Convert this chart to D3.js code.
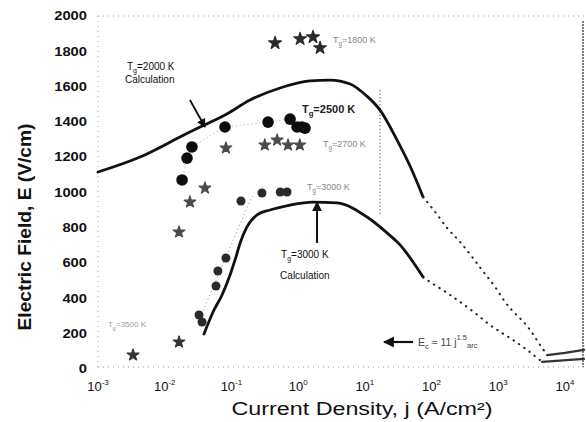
<!DOCTYPE html>
<html><head><meta charset="utf-8">
<script src="https://cdn.jsdelivr.net/npm/d3@7"></script>
<style>body{margin:0;background:#fff}svg{display:block;font-family:"Liberation Sans",Arial,sans-serif}</style>
</head><body><svg id="c" width="586" height="422"></svg>
<script>
// ---- tick labels ----
const yTickValues = [0,200,400,600,800,1000,1200,1400,1600,1800,2000];
const xTickValues = [1e-3,1e-2,1e-1,1,10,100,1000,10000];
const xTickExponents = ["-3","-2","-1","0","1","2","3","4"];

// ---- calculation curves [j (A/cm2), E (V/cm)] ----
const calc2000Solid = [[0.001,1116],[0.00427,1201],[0.0169,1314],[0.0338,1371],[0.0802,1439],[0.19,1524],[0.536,1592],[1.51,1632],[3.01,1637],[6.0,1615],[10.8,1545],[16.9,1467],[30.4,1297],[47.6,1150],[74.6,975]];
const calc2000Dotted = [[74.6,975],[113,890],[171,799],[267,720],[571,561],[895,465],[1265,380],[3000,221],[4240,136],[5400,79]];
const calc2000Tail = [[5400,79],[10000,91],[19300,108]];
const calc3000Solid = [[0.0388,198],[0.053,323],[0.0723,419],[0.0953,533],[0.117,635],[0.135,714],[0.171,805],[0.242,873],[0.379,901],[0.757,929],[1.67,946],[3.83,941],[10.8,861],[21.5,771],[33.7,703],[74.6,521]];
const calc3000Dotted = [[74.6,521],[95.1,493],[171,431],[449,317],[753,249],[1667,164],[2704,108],[4540,40]];
const calc3000Tail = [[4540,40],[19300,57]];

// ---- measured data ----
const data2500 = [[0.0182,1071],[0.0216,1195],[0.0256,1258],[0.080,1371],[0.354,1399],[0.757,1416],[0.964,1371],[1.14,1371],[1.27,1365]];
const data2700 = [[0.0164,776],[0.0239,946],[0.0401,1025],[0.0827,1252],[0.316,1269],[0.484,1297],[0.705,1269],[1.06,1269]];
const data3000 = [[0.0327,306],[0.0363,266],[0.0587,470],[0.0627,555],[0.0827,629],[0.139,952],[0.287,997],[0.54,1003],[0.681,1003]];
const data1800 = [[0.451,1847],[1.07,1870],[1.67,1881],[2.13,1819]];
const dataLow = [[0.00335,79],[0.0164,153]];
const trend3000 = [[0.0338,289],[0.204,980]];
const markerLine = [[16.9,1580],[16.9,870]];

const svg = d3.select("#c");
const x = d3.scaleLog().domain([1e-3, Math.pow(10,4.285)]).range([98,584]);
const y = d3.scaleLinear().domain([0,2000]).range([369,16]);
const line = d3.line().x(d=>x(d[0])).y(d=>y(d[1])).curve(d3.curveMonotoneX);
const straight = d3.line().x(d=>x(d[0])).y(d=>y(d[1]));

// frame (faint dotted as in scan)
const [x0,x1] = x.range(), [y0,y1] = y.range();
const fr = svg.append("g").attr("fill","none");
fr.append("line").attr("x1",x0).attr("x2",x1).attr("y1",y1).attr("y2",y1).attr("stroke","#999").attr("stroke-dasharray","1,4");
fr.append("line").attr("x1",x0).attr("x2",x1).attr("y1",y0-2).attr("y2",y0-2).attr("stroke","#999").attr("stroke-dasharray","1,4");
fr.append("line").attr("x1",x0).attr("x2",x0).attr("y1",y1).attr("y2",y0).attr("stroke","#aaa").attr("stroke-dasharray","1,4");
fr.append("line").attr("x1",x1-1).attr("x2",x1-1).attr("y1",y1+5).attr("y2",y0-2).attr("stroke","#555").attr("stroke-width",1.5).attr("stroke-dasharray","2,1");

// y tick labels
svg.append("g").selectAll("text").data(yTickValues).join("text")
  .attr("x",87).attr("y",d=>y(d)).attr("dy","0.35em").attr("text-anchor","end")
  .attr("font-size",12).attr("font-weight","bold").attr("fill","#111")
  .attr("textLength",d=>String(d).length*8.2).attr("lengthAdjust","spacingAndGlyphs")
  .text(d=>String(d));

// x tick labels
const xt = svg.append("g").selectAll("text").data(xTickValues).join("text")
  .attr("x",(d)=>x(d)).attr("y",391).attr("text-anchor","middle")
  .attr("font-size",13).attr("fill","#111");
xt.append("tspan").text("10");
xt.append("tspan").attr("dy",-6).attr("font-size",8).text((d,i)=>xTickExponents[i]);

// axis titles
svg.append("text").attr("x",362).attr("y",415).attr("text-anchor","middle")
  .attr("font-size",18).attr("fill","#111").attr("textLength",261).attr("lengthAdjust","spacingAndGlyphs")
  .text("Current Density, j (A/cm²)");
svg.append("text").attr("transform","translate(31,227) rotate(-90)").attr("text-anchor","middle")
  .attr("font-size",18).attr("font-weight","bold").attr("fill","#111")
  .attr("textLength",207).attr("lengthAdjust","spacingAndGlyphs")
  .text("Electric Field, E (V/cm)");

// vertical dotted marker
svg.append("path").datum(markerLine).attr("d",straight).attr("stroke","#444").attr("stroke-width",1.2).attr("stroke-dasharray","1,2.5").attr("fill","none");

// trend lines (faint dotted)
svg.append("path").datum(trend3000).attr("d",straight).attr("stroke","#888").attr("stroke-dasharray","1,3").attr("fill","none");
svg.append("path").datum(data2500).attr("d",straight).attr("stroke","#aaa").attr("stroke-dasharray","1,3").attr("fill","none");

// calc curves
const cg = svg.append("g").attr("fill","none").attr("stroke-linecap","round");
cg.append("path").datum(calc2000Solid).attr("d",line).attr("stroke","#111").attr("stroke-width",2.8);
cg.append("path").datum(calc2000Dotted).attr("d",line).attr("stroke","#222").attr("stroke-width",2).attr("stroke-dasharray","0.5,6");
cg.append("path").datum(calc2000Tail).attr("d",straight).attr("stroke","#333").attr("stroke-width",2.2);
cg.append("path").datum(calc3000Solid).attr("d",line).attr("stroke","#111").attr("stroke-width",2.8);
cg.append("path").datum(calc3000Dotted).attr("d",line).attr("stroke","#222").attr("stroke-width",2).attr("stroke-dasharray","0.5,6");
cg.append("path").datum(calc3000Tail).attr("d",straight).attr("stroke","#333").attr("stroke-width",2.2);

// markers
function circles(data, r, fill){
  svg.append("g").selectAll("circle").data(data).join("circle")
    .attr("cx",d=>x(d[0])).attr("cy",d=>y(d[1])).attr("r",r).attr("fill",fill);
}
function stars(data, size, fill){
  svg.append("g").selectAll("path").data(data).join("path")
    .attr("transform",d=>`translate(${x(d[0])},${y(d[1])})`)
    .attr("d",d3.symbol().type(d3.symbolStar).size(size)).attr("fill",fill)
    .attr("stroke",fill).attr("stroke-width",1.2).attr("stroke-linejoin","round");
}
circles(data2500,5.8,"#0d0d0d");
stars(data2700,42,"#4a4a4a");
circles(data3000,4.5,"#2a2a2a");
stars(data1800,50,"#2a2a2a");
stars(dataLow,42,"#333");

// labels
function tlabel(j,E,sub,rest,opts={}){
  const t = svg.append("text").attr("x",x(j)).attr("y",y(E))
    .attr("font-size",opts.size||10).attr("fill",opts.fill||"#111")
    .attr("font-weight",opts.weight||"normal");
  t.append("tspan").text("T");
  t.append("tspan").attr("dy",3).attr("font-size",(opts.size||10)*0.7).text(sub);
  t.append("tspan").attr("dy",-3).text(rest);
  return t;
}
tlabel(0.00272,1694,"g","=2000 K",{size:10});
svg.append("text").attr("x",x(0.00254)).attr("y",y(1620)).attr("font-size",10).attr("fill","#111").text("Calculation");
tlabel(1.14,1450,"g","=2500 K",{size:11,weight:"bold",fill:"#222"});
tlabel(2.36,1258,"g","=2700 K",{size:9,fill:"#888"});
tlabel(3.33,1847,"g","=1800 K",{size:9,fill:"#888"});
tlabel(1.36,1014,"g","=3000 K",{size:9,fill:"#888"});
tlabel(0.555,629,"g","=3000 K",{size:10});
svg.append("text").attr("x",x(0.537)).attr("y",y(510)).attr("font-size",10).attr("fill","#111").text("Calculation");
tlabel(0.00141,238,"g","=3500 K",{size:8,fill:"#999"});

// arrows
const defs = svg.append("defs");
defs.append("marker").attr("id","ah").attr("viewBox","0 0 10 10").attr("refX",9).attr("refY",5)
  .attr("markerWidth",5).attr("markerHeight",5).attr("orient","auto")
  .append("path").attr("d","M0,0L10,5L0,10Z").attr("fill","#111");
svg.append("path").datum([[0.0239,1524],[0.0402,1371]]).attr("d",straight).attr("stroke","#111").attr("stroke-width",1.8).attr("marker-end","url(#ah)");
svg.append("path").datum([[1.92,714],[1.92,945]]).attr("d",straight).attr("stroke","#111").attr("stroke-width",2).attr("marker-end","url(#ah)");
svg.append("path").datum([[52.8,153],[19.4,153]]).attr("d",straight).attr("stroke","#111").attr("stroke-width",2.2).attr("marker-end","url(#ah)");

// formula annotation
const f = svg.append("text").attr("x",x(62.8)).attr("y",y(130)).attr("font-size",10.5).attr("fill","#444");
f.append("tspan").text("E");
f.append("tspan").attr("dy",3).attr("font-size",7.5).text("c");
f.append("tspan").attr("dy",-3).text(" ≈ 11 j");
f.append("tspan").attr("dy",-6).attr("font-size",7.5).text("1.5");
f.append("tspan").attr("dy",8).attr("font-size",7.5).text("arc");
</script></body></html>
